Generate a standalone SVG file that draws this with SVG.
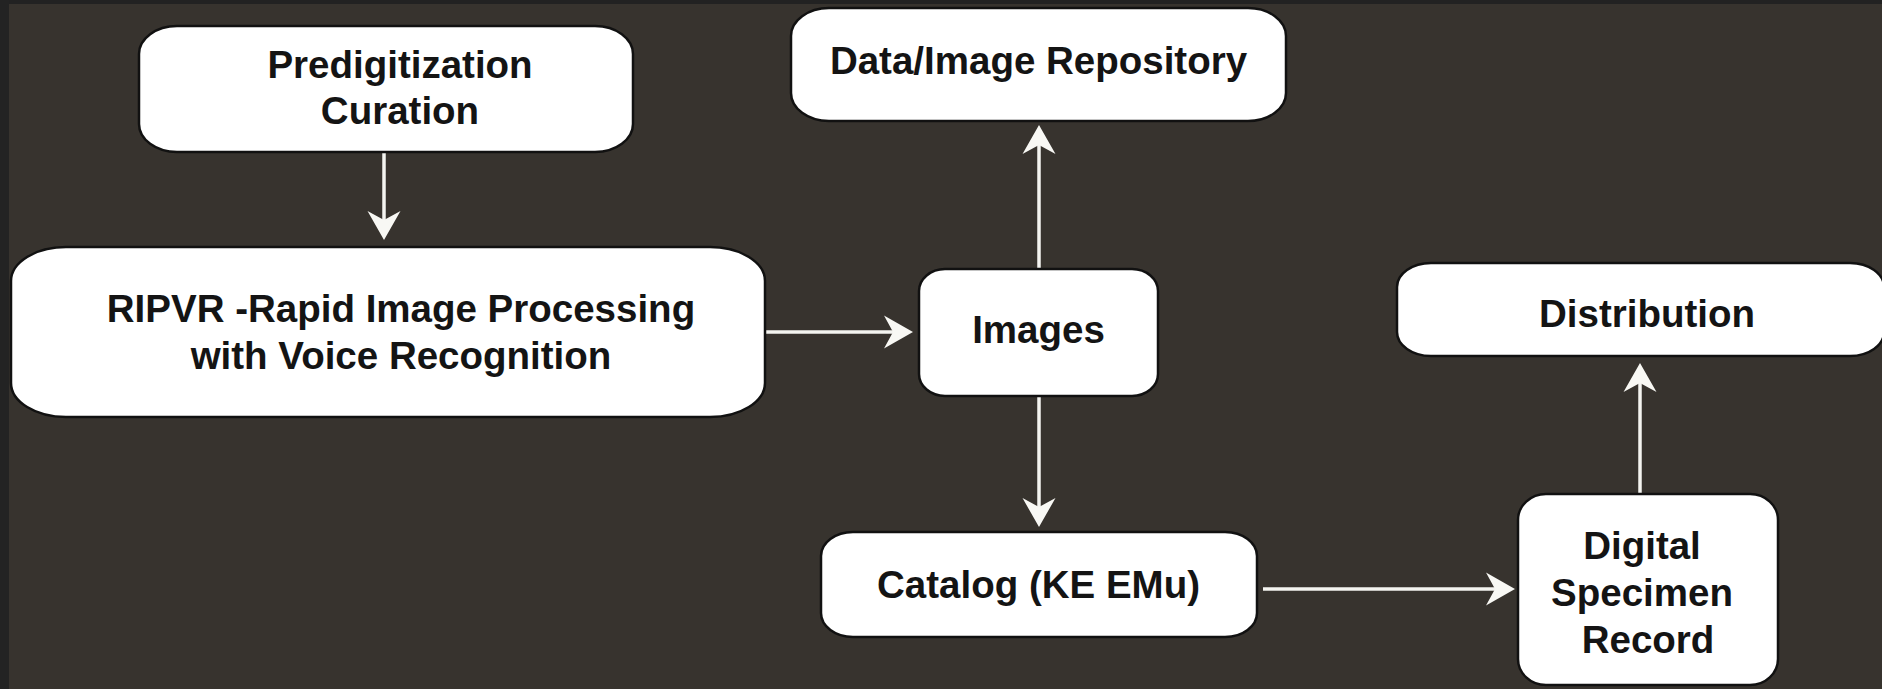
<svg xmlns="http://www.w3.org/2000/svg" width="1882" height="689" viewBox="0 0 1882 689">
  <style>
    .box { fill: #ffffff; stroke: #111111; stroke-width: 2.5; }
    .lbl { font-family: "Liberation Sans", Arial, sans-serif; font-weight: bold; font-size: 38.5px; fill: #141414; text-anchor: middle; }
    .conn { stroke: #f4f4f0; stroke-width: 3.5; fill: none; }
  </style>
  <defs>
    <marker id="arr" markerUnits="userSpaceOnUse" viewBox="-10 -18 32 36" markerWidth="32" markerHeight="36" refX="0" refY="0" orient="auto" overflow="visible">
      <path d="M20,0 L-9,-16.5 L0,0 L-9,16.5 Z" fill="#f8f8f4"/>
    </marker>
  </defs>
  <rect x="0" y="0" width="1882" height="689" fill="#37332e"/>
  <rect x="0" y="0" width="1882" height="4" fill="#222222"/>
  <rect x="0" y="0" width="9" height="689" fill="#232323"/>

  <g id="connectors">
    <line class="conn" x1="384" y1="153" x2="384" y2="220" marker-end="url(#arr)"/>
    <line class="conn" x1="766" y1="332" x2="893" y2="332" marker-end="url(#arr)"/>
    <line class="conn" x1="1039" y1="268" x2="1039" y2="145" marker-end="url(#arr)"/>
    <line class="conn" x1="1039" y1="397" x2="1039" y2="507" marker-end="url(#arr)"/>
    <line class="conn" x1="1263" y1="589" x2="1495" y2="589" marker-end="url(#arr)"/>
    <line class="conn" x1="1640" y1="494" x2="1640" y2="383" marker-end="url(#arr)"/>
  </g>

  <g id="node-predigitization">
    <rect class="box" x="139" y="26" width="494" height="126" rx="38" ry="28"/>
    <text class="lbl" x="400" y="78">Predigitization</text>
    <text class="lbl" x="400" y="124">Curation</text>
  </g>

  <g id="node-ripvr">
    <rect class="box" x="11" y="247" width="754" height="170" rx="55" ry="34"/>
    <text class="lbl" x="401" y="322">RIPVR -Rapid Image Processing</text>
    <text class="lbl" x="401" y="369">with Voice Recognition</text>
  </g>

  <g id="node-repository">
    <rect class="box" x="791" y="8" width="495" height="113" rx="38" ry="28"/>
    <text class="lbl" x="1038.5" y="74">Data/Image Repository</text>
  </g>

  <g id="node-images">
    <rect class="box" x="919" y="269" width="239" height="127" rx="26" ry="22"/>
    <text class="lbl" x="1038.5" y="343">Images</text>
  </g>

  <g id="node-catalog">
    <rect class="box" x="821" y="532" width="436" height="105" rx="32" ry="24"/>
    <text class="lbl" x="1038.5" y="598">Catalog (KE EMu)</text>
  </g>

  <g id="node-distribution">
    <rect class="box" x="1397" y="263" width="487" height="93" rx="34" ry="24"/>
    <text class="lbl" x="1647" y="327">Distribution</text>
  </g>

  <g id="node-digital-specimen">
    <rect class="box" x="1518" y="494" width="260" height="191" rx="28" ry="26"/>
    <text class="lbl" x="1642" y="559">Digital</text>
    <text class="lbl" x="1642" y="606">Specimen</text>
    <text class="lbl" x="1648" y="653">Record</text>
  </g>
</svg>
